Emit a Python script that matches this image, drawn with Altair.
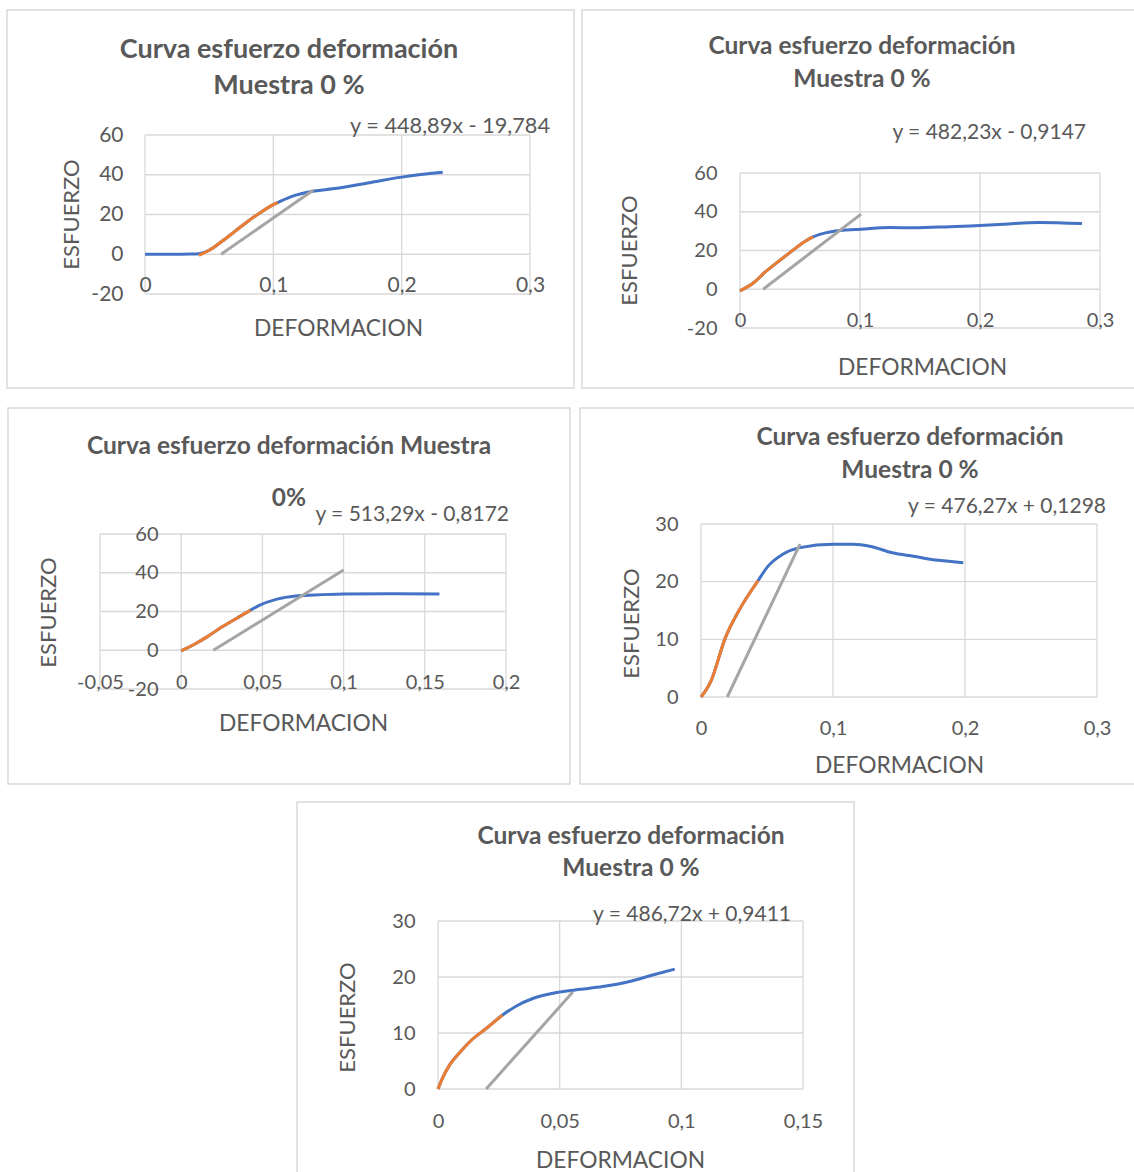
import altair as alt
import pandas as pd

# ---------------- data ----------------
# Panel 1
p1_orange_x = [0.042, 0.05, 0.06, 0.07, 0.08, 0.09, 0.1, 0.1034]
p1_orange_y = [-0.6, 2.0, 6.5, 11.5, 16.5, 21.0, 25.0, 26.0]
p1_blue_x = [0, 0.02, 0.036, 0.042, 0.05, 0.06, 0.07, 0.08, 0.09, 0.1, 0.1034,
             0.114, 0.132, 0.146, 0.175, 0.2, 0.232]
p1_blue_y = [0, 0, 0.1, 0.3, 2.0, 6.5, 11.5, 16.5, 21.0, 25.0, 26.0,
             29.0, 31.8, 32.9, 36.0, 38.8, 41.2]
p1_grey_x = [0.0593, 0.131]
p1_grey_y = [0, 32.2]

# Panel 2
p2_orange_x = [0, 0.0119, 0.0208, 0.0297, 0.0415, 0.0534, 0.0608]
p2_orange_y = [-0.8, 3.6, 8.8, 13.2, 18.9, 24.4, 27.0]
p2_blue_x = p2_orange_x + [0.0712, 0.086, 0.1006, 0.1246, 0.145, 0.175, 0.2, 0.22, 0.249, 0.285]
p2_blue_y = p2_orange_y + [29.1, 30.5, 31.0, 31.9, 31.7, 32.3, 32.9, 33.6, 34.5, 33.9]
p2_grey_x = [0.0193, 0.1009]
p2_grey_y = [0, 38.8]

# Panel 3
p3_orange_x = [0, 0.009, 0.0159, 0.025, 0.034, 0.0427]
p3_orange_y = [-0.3, 3.5, 6.9, 12.0, 16.4, 20.7]
p3_blue_x = p3_orange_x + [0.0477, 0.059, 0.0705, 0.082, 0.1, 0.127, 0.159]
p3_blue_y = p3_orange_y + [23.0, 26.4, 28.0, 28.5, 29.0, 29.2, 29.0]
p3_grey_x = [0.0198, 0.1]
p3_grey_y = [0, 41.4]

# Panel 4
p4_orange_x = [0, 0.0078, 0.018, 0.03, 0.0433]
p4_orange_y = [0, 2.9, 10.0, 15.5, 20.2]
p4_blue_x = p4_orange_x + [0.0508, 0.0616, 0.075, 0.1, 0.1153, 0.1288, 0.1449, 0.161, 0.18, 0.1987]
p4_blue_y = p4_orange_y + [22.7, 24.7, 25.9, 26.5, 26.5, 26.1, 25.0, 24.4, 23.7, 23.3]
p4_grey_x = [0.0199, 0.075]
p4_grey_y = [0, 26.5]

# Panel 5
p5_orange_x = [0, 0.0018, 0.0048, 0.0093, 0.0138, 0.0198, 0.0265]
p5_orange_y = [0, 1.9, 4.3, 6.7, 8.75, 10.8, 13.2]
p5_blue_x = p5_orange_x + [0.0317, 0.0392, 0.0497, 0.0587, 0.0677, 0.0796, 0.0886, 0.0973]
p5_blue_y = p5_orange_y + [14.7, 16.2, 17.3, 17.8, 18.3, 19.3, 20.4, 21.4]
p5_grey_x = [0.0198, 0.0554]
p5_grey_y = [0, 17.3]

# axis ticks
p1_xticks = [0, 0.1, 0.2, 0.3]
p1_yticks = [-20, 0, 20, 40, 60]
p2_xticks = [0, 0.1, 0.2, 0.3]
p2_yticks = [-20, 0, 20, 40, 60]
p3_xticks = [-0.05, 0, 0.05, 0.1, 0.15, 0.2]
p3_yticks = [-20, 0, 20, 40, 60]
p4_xticks = [0, 0.1, 0.2, 0.3]
p4_yticks = [0, 10, 20, 30]
p5_xticks = [0, 0.05, 0.1, 0.15]
p5_yticks = [0, 10, 20, 30]

title_lines_std = ["Curva esfuerzo deformación", "Muestra 0 %"]
title_lines_p3 = ["Curva esfuerzo deformación Muestra", "0%"]
equations = ["y = 448,89x - 19,784", "y = 482,23x - 0,9147", "y = 513,29x - 0,8172",
             "y = 476,27x + 0,1298", "y = 486,72x + 0,9411"]
x_title = "DEFORMACION"
y_title = "ESFUERZO"

# ---------------- layout / style ----------------
W, H = 1134, 1172
FONT = "Lato"
TXT = "#595959"
GRID = "#d9d9d9"
BLUE = "#4472C4"
ORANGE = "#ED7D31"
GREY = "#A5A5A5"

layout = [
    dict(box=(7, 10, 574, 388), xr=(145, 530), yr=(294, 135), xlab_y=285, ylab_x=123,
         ytitle=(71, 214), xtitle=(338, 328), tcx=289, tys=(50, 86), tsize=27,
         eq=(550, 126), eqsize=21.7, tick=21),
    dict(box=(582, 10, 1140, 388), xr=(740, 1100), yr=(328, 173), xlab_y=320, ylab_x=717,
         ytitle=(629, 250), xtitle=(922, 367), tcx=862, tys=(47, 80), tsize=24.5,
         eq=(1086, 133), eqsize=21, tick=20),
    dict(box=(8, 408, 570, 784), xr=(100, 506), yr=(689, 534), xlab_y=682, ylab_x=158,
         ytitle=(48, 612), xtitle=(303, 723), tcx=289, tys=(447, 499), tsize=24.5,
         eq=(509, 515), eqsize=21, tick=20),
    dict(box=(580, 408, 1140, 784), xr=(701, 1097), yr=(697, 524), xlab_y=728, ylab_x=678,
         ytitle=(631, 623), xtitle=(899, 765), tcx=910, tys=(438, 471), tsize=24.5,
         eq=(1106, 507), eqsize=21, tick=20),
    dict(box=(297, 802, 854, 1185), xr=(438, 803), yr=(1089, 921), xlab_y=1121, ylab_x=415,
         ytitle=(347, 1017), xtitle=(620, 1160), tcx=631, tys=(837, 869), tsize=24.5,
         eq=(791, 915), eqsize=21, tick=20),
]

series = [
    (p1_blue_x, p1_blue_y, p1_orange_x, p1_orange_y, p1_grey_x, p1_grey_y, p1_xticks, p1_yticks, title_lines_std),
    (p2_blue_x, p2_blue_y, p2_orange_x, p2_orange_y, p2_grey_x, p2_grey_y, p2_xticks, p2_yticks, title_lines_std),
    (p3_blue_x, p3_blue_y, p3_orange_x, p3_orange_y, p3_grey_x, p3_grey_y, p3_xticks, p3_yticks, title_lines_p3),
    (p4_blue_x, p4_blue_y, p4_orange_x, p4_orange_y, p4_grey_x, p4_grey_y, p4_xticks, p4_yticks, title_lines_std),
    (p5_blue_x, p5_blue_y, p5_orange_x, p5_orange_y, p5_grey_x, p5_grey_y, p5_xticks, p5_yticks, title_lines_std),
]

ONE = pd.DataFrame({"k": [0]})
LABEL_EXPR = "replace(toString(datum.value), '.', ',')"


def text_layer(text, x, y, size, weight="normal", align="center"):
    return alt.Chart(ONE).mark_text(
        text=text, font=FONT, fontSize=size, fontWeight=weight, color=TXT,
        align=align, baseline="middle"
    ).encode(x=alt.value(x), y=alt.value(y))


def panel(i):
    L = layout[i]
    bx, by, ox, oy, gx, gy, xt, yt, tl = series[i]
    xdom = [xt[0], xt[-1]]
    ydom = [yt[0], yt[-1]]
    xaxis = alt.Axis(
        orient="bottom", values=xt, offset=L["xlab_y"] - H, grid=False, domain=False,
        ticks=False, tickSize=0, labelPadding=0, labelBaseline="middle", labelAlign="center",
        labelFlush=False, labelOverlap=False, labelFont=FONT, labelFontSize=L["tick"],
        labelColor=TXT, labelExpr=LABEL_EXPR, zindex=1,
        title=x_title, titleFont=FONT, titleFontSize=22.8, titleFontWeight="normal",
        titleColor=TXT, titleX=L["xtitle"][0], titleY=L["xtitle"][1] - L["xlab_y"],
        titleBaseline="middle", titleAlign="center",
    )
    yaxis = alt.Axis(
        orient="left", values=yt, offset=-L["ylab_x"], grid=False, domain=False,
        ticks=False, tickSize=0, labelPadding=0, labelBaseline="middle", labelAlign="right",
        labelFlush=False, labelOverlap=False, labelFont=FONT, labelFontSize=L["tick"],
        labelColor=TXT, labelExpr=LABEL_EXPR, zindex=1,
        title=y_title, titleFont=FONT, titleFontSize=22, titleFontWeight="normal",
        titleColor=TXT, titleX=L["ytitle"][0] - L["ylab_x"], titleY=L["ytitle"][1],
        titleAngle=270, titleBaseline="middle", titleAlign="center",
    )
    X = alt.X("x:Q", scale=alt.Scale(domain=xdom, range=list(L["xr"]), nice=False, zero=False), axis=xaxis)
    Y = alt.Y("y:Q", scale=alt.Scale(domain=ydom, range=list(L["yr"]), nice=False, zero=False), axis=yaxis)

    vgrid = pd.DataFrame({"x": xt, "y": [ydom[0]] * len(xt), "y2": [ydom[1]] * len(xt)})
    hgrid = pd.DataFrame({"y": yt, "x": [xdom[0]] * len(yt), "x2": [xdom[1]] * len(yt)})
    vg = alt.Chart(vgrid).mark_rule(color=GRID, strokeWidth=1.3).encode(x=X, y=Y, y2="y2:Q")
    hg = alt.Chart(hgrid).mark_rule(color=GRID, strokeWidth=1.3).encode(y=Y, x=X, x2="x2:Q")

    blue = alt.Chart(pd.DataFrame({"x": bx, "y": by})).mark_line(
        color=BLUE, strokeWidth=3, interpolate="monotone").encode(x=X, y=Y)
    orange = alt.Chart(pd.DataFrame({"x": ox, "y": oy})).mark_line(
        color=ORANGE, strokeWidth=3, interpolate="monotone").encode(x=X, y=Y)
    grey = alt.Chart(pd.DataFrame({"x": gx, "y": gy})).mark_line(
        color=GREY, strokeWidth=3).encode(x=X, y=Y)
    return alt.layer(vg, hg, blue, orange, grey)


layers = []
for i, L in enumerate(layout):
    x0, y0, x1, y1 = L["box"]
    layers.append(
        alt.Chart(ONE).mark_rect(fillOpacity=0, stroke=GRID, strokeWidth=1.5).encode(
            x=alt.value(x0), x2=alt.value(x1), y=alt.value(y0), y2=alt.value(y1))
    )
for i in range(5):
    layers.append(panel(i))
for i, L in enumerate(layout):
    tl = series[i][8]
    layers.append(text_layer(tl[0], L["tcx"], L["tys"][0], L["tsize"], weight="bold"))
    layers.append(text_layer(tl[1], L["tcx"], L["tys"][1], L["tsize"], weight="bold"))
    layers.append(text_layer(equations[i], L["eq"][0], L["eq"][1], L["eqsize"], align="right"))

chart = alt.layer(*layers).resolve_scale(x="independent", y="independent").properties(
    width=W, height=H, padding=0, autosize="none", background="white"
).configure_view(stroke=None)

chart.save("out.html", embed_options={"renderer": "svg", "actions": False})
